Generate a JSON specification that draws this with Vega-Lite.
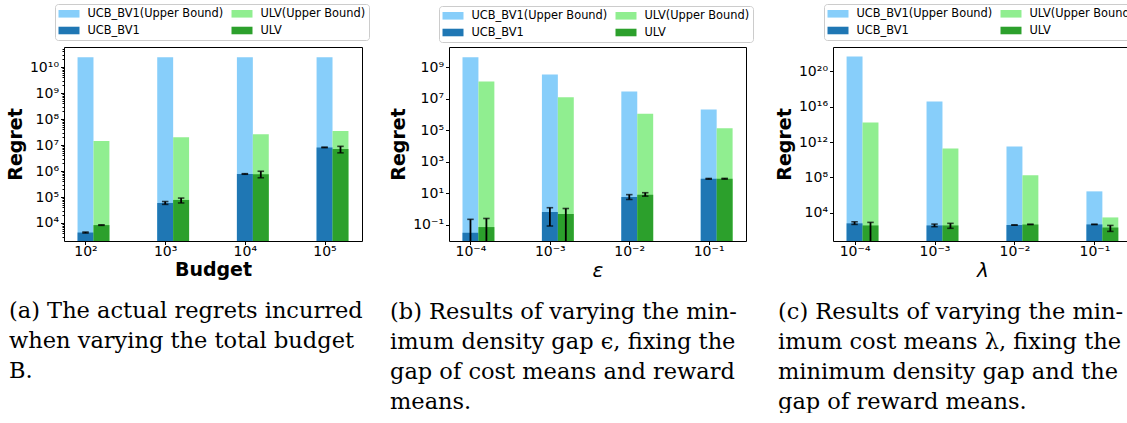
{
  "$schema": "https://vega.github.io/schema/vega-lite/v6.json",
  "padding": {"left": 6, "top": 3, "right": 0, "bottom": 0},
  "background": "white",
  "spacing": 87,
  "bounds": "flush",
  "config": {
    "font": "DejaVu Sans",
    "view": {"stroke": null},
    "axis": {"domain": true, "domainColor": "black", "domainWidth": 1, "grid": false, "tickColor": "black", "tickSize": 3.5, "tickWidth": 1, "labelColor": "black", "labelFontSize": 14, "labelFont": "DejaVu Sans", "titleColor": "black", "titleFont": "DejaVu Sans", "titleFontSize": 19, "titleFontWeight": "bold", "labelPadding": 2},
    "axisX": {"labelAngle": 0, "titlePadding": 2, "labelPadding": 0},
    "axisY": {"titlePadding": 4, "labelOverlap": false},
    "legend": {"orient": "none", "title": null, "columns": 2, "columnPadding": 8, "rowPadding": 5, "padding": 3.5, "strokeColor": "#cccccc", "fillColor": "white", "cornerRadius": 3, "symbolStrokeWidth": 0, "labelFont": "DejaVu Sans", "labelFontSize": 11.4, "labelOffset": 17, "labelColor": "black"},
    "title": {"font": "DejaVu Serif", "fontSize": 22.5, "fontWeight": "normal", "color": "black", "orient": "bottom", "anchor": "start", "frame": "group", "lineHeight": 30, "offset": 20}
  },
  "resolve": {"scale": {"color": "independent"}, "legend": {"color": "independent"}},
  "datasets": {
    "a": [
      {"param": "10²", "alg": "UCB_BV1", "ubSeries": "UCB_BV1(Upper Bound)", "series": "UCB_BV1", "ub": 2.4e10, "mean": 4300, "lo": 4100, "hi": 4500},
      {"param": "10²", "alg": "ULV", "ubSeries": "ULV(Upper Bound)", "series": "ULV", "ub": 1.43e7, "mean": 8300, "lo": 8100, "hi": 8500},
      {"param": "10³", "alg": "UCB_BV1", "ubSeries": "UCB_BV1(Upper Bound)", "series": "UCB_BV1", "ub": 2.4e10, "mean": 59000, "lo": 52000, "hi": 67000},
      {"param": "10³", "alg": "ULV", "ubSeries": "ULV(Upper Bound)", "series": "ULV", "ub": 2.0e7, "mean": 77000, "lo": 59000, "hi": 91000},
      {"param": "10⁴", "alg": "UCB_BV1", "ubSeries": "UCB_BV1(Upper Bound)", "series": "UCB_BV1", "ub": 2.4e10, "mean": 770000, "lo": 750000, "hi": 790000},
      {"param": "10⁴", "alg": "ULV", "ubSeries": "ULV(Upper Bound)", "series": "ULV", "ub": 2.6e7, "mean": 750000, "lo": 550000, "hi": 980000},
      {"param": "10⁵", "alg": "UCB_BV1", "ubSeries": "UCB_BV1(Upper Bound)", "series": "UCB_BV1", "ub": 2.4e10, "mean": 8.1e6, "lo": 7.9e6, "hi": 8.3e6},
      {"param": "10⁵", "alg": "ULV", "ubSeries": "ULV(Upper Bound)", "series": "ULV", "ub": 3.5e7, "mean": 7.1e6, "lo": 5.0e6, "hi": 8.9e6}
    ],
    "b": [
      {"param": "10⁻⁴", "alg": "UCB_BV1", "ubSeries": "UCB_BV1(Upper Bound)", "series": "UCB_BV1", "ub": 4.2e9, "mean": 0.031, "lo": 0.0001, "hi": 0.22},
      {"param": "10⁻⁴", "alg": "ULV", "ubSeries": "ULV(Upper Bound)", "series": "ULV", "ub": 1.2e8, "mean": 0.071, "lo": 0.0001, "hi": 0.25},
      {"param": "10⁻³", "alg": "UCB_BV1", "ubSeries": "UCB_BV1(Upper Bound)", "series": "UCB_BV1", "ub": 3.4e8, "mean": 0.64, "lo": 0.083, "hi": 1.2},
      {"param": "10⁻³", "alg": "ULV", "ubSeries": "ULV(Upper Bound)", "series": "ULV", "ub": 1.2e7, "mean": 0.48, "lo": 0.0001, "hi": 1.07},
      {"param": "10⁻²", "alg": "UCB_BV1", "ubSeries": "UCB_BV1(Upper Bound)", "series": "UCB_BV1", "ub": 2.8e7, "mean": 5.8, "lo": 4.0, "hi": 8.1},
      {"param": "10⁻²", "alg": "ULV", "ubSeries": "ULV(Upper Bound)", "series": "ULV", "ub": 1.1e6, "mean": 8.0, "lo": 6.5, "hi": 10.7},
      {"param": "10⁻¹", "alg": "UCB_BV1", "ubSeries": "UCB_BV1(Upper Bound)", "series": "UCB_BV1", "ub": 2.0e6, "mean": 81, "lo": 77, "hi": 86},
      {"param": "10⁻¹", "alg": "ULV", "ubSeries": "ULV(Upper Bound)", "series": "ULV", "ub": 1.3e5, "mean": 82, "lo": 78, "hi": 87}
    ],
    "c": [
      {"param": "10⁻⁴", "alg": "UCB_BV1", "ubSeries": "UCB_BV1(Upper Bound)", "series": "UCB_BV1", "ub": 5e21, "mean": 620, "lo": 470, "hi": 930},
      {"param": "10⁻⁴", "alg": "ULV", "ubSeries": "ULV(Upper Bound)", "series": "ULV", "ub": 1.7e14, "mean": 360, "lo": 1, "hi": 800},
      {"param": "10⁻³", "alg": "UCB_BV1", "ubSeries": "UCB_BV1(Upper Bound)", "series": "UCB_BV1", "ub": 4e16, "mean": 360, "lo": 260, "hi": 510},
      {"param": "10⁻³", "alg": "ULV", "ubSeries": "ULV(Upper Bound)", "series": "ULV", "ub": 1.9e11, "mean": 360, "lo": 170, "hi": 620},
      {"param": "10⁻²", "alg": "UCB_BV1", "ubSeries": "UCB_BV1(Upper Bound)", "series": "UCB_BV1", "ub": 3.2e11, "mean": 400, "lo": 390, "hi": 410},
      {"param": "10⁻²", "alg": "ULV", "ubSeries": "ULV(Upper Bound)", "series": "ULV", "ub": 1.7e8, "mean": 470, "lo": 455, "hi": 485},
      {"param": "10⁻¹", "alg": "UCB_BV1", "ubSeries": "UCB_BV1(Upper Bound)", "series": "UCB_BV1", "ub": 2.6e6, "mean": 470, "lo": 460, "hi": 480},
      {"param": "10⁻¹", "alg": "ULV", "ubSeries": "ULV(Upper Bound)", "series": "ULV", "ub": 2.9e3, "mean": 210, "lo": 76, "hi": 360}
    ]
  },
  "hconcat": [
    {
      "width": 298, "height": 194,
      "data": {"name": "a"},
      "title": {"text": ["(a) The actual regrets incurred", "when varying the total budget", "B."], "dx": -55},
      "resolve": {"axis": {"x": "independent", "y": "independent"}},
      "encoding": {
        "xOffset": {"field": "alg", "type": "nominal", "scale": {"domain": ["UCB_BV1", "ULV"], "paddingInner": 0, "paddingOuter": 0}}
      },
      "layer": [
        {"mark": {"type": "bar"}, "encoding": {
          "x": {"field": "param", "type": "nominal", "scale": {"domain": ["10²", "10³", "10⁴", "10⁵"], "paddingInner": 0.6, "paddingOuter": 0.17}, "axis": {"title": "Budget", "tickOffset": -8}},
          "y": {"field": "ub", "type": "quantitative", "scale": {"type": "log", "nice": false, "domain": [2030, 5.9e10]}, "axis": {"title": "Regret", "values": [3e3,4e3,5e3,6e3,7e3,8e3,9e3,1e4,2e4,3e4,4e4,5e4,6e4,7e4,8e4,9e4,1e5,2e5,3e5,4e5,5e5,6e5,7e5,8e5,9e5,1e6,2e6,3e6,4e6,5e6,6e6,7e6,8e6,9e6,1e7,2e7,3e7,4e7,5e7,6e7,7e7,8e7,9e7,1e8,2e8,3e8,4e8,5e8,6e8,7e8,8e8,9e8,1e9,2e9,3e9,4e9,5e9,6e9,7e9,8e9,9e9,1e10,2e10,3e10,4e10,5e10],
            "labelExpr": "abs(log(datum.value)/LN10 - round(log(datum.value)/LN10)) < 0.000001 ? '10' + replace(replace(replace(replace(replace(replace(replace(replace(replace(replace(replace(replace(format(round(log(datum.value)/LN10),'d'),'−','⁻'),'-','⁻'),'0','⁰'),'1','¹'),'2','²'),'3','³'),'4','⁴'),'5','⁵'),'6','⁶'),'7','⁷'),'8','⁸'),'9','⁹') : ''",
            "tickSize": {"condition": {"test": "abs(log(datum.value)/LN10 - round(log(datum.value)/LN10)) < 0.000001", "value": 3.5}, "value": 2}}},
          "y2": {"datum": 2030},
          "color": {"field": "ubSeries", "type": "nominal", "scale": {"domain": ["UCB_BV1(Upper Bound)", "UCB_BV1", "ULV(Upper Bound)", "ULV"], "range": ["#87cefa", "#1f77b4", "#90ee90", "#2ca02c"]}, "legend": {"legendX": -9, "legendY": -43, "symbolType": "M-1,-0.63H2.5V0.63H-1Z", "symbolSize": 144}}
        }},
        {"mark": {"type": "bar"}, "encoding": {
          "x": {"field": "param", "type": "nominal", "axis": {"orient": "top", "title": null, "labels": false, "ticks": false}},
          "y": {"field": "mean", "type": "quantitative", "axis": {"orient": "right", "title": null, "labels": false, "ticks": false}},
          "y2": {"datum": 2030},
          "color": {"field": "series", "type": "nominal", "legend": {"legendX": -9, "legendY": -43, "symbolType": "M-1,-0.63H2.5V0.63H-1Z", "symbolSize": 144}}
        }},
        {"mark": {"type": "rule", "clip": true, "color": "black", "strokeWidth": 1.8}, "encoding": {"x": {"field": "param", "type": "nominal", "axis": null}, "y": {"field": "lo", "type": "quantitative", "axis": null}, "y2": {"field": "hi"}}},
        {"mark": {"type": "tick", "clip": true, "color": "black", "thickness": 1.6, "size": 6.5}, "encoding": {"x": {"field": "param", "type": "nominal", "axis": null}, "y": {"field": "lo", "type": "quantitative", "axis": null}}},
        {"mark": {"type": "tick", "clip": true, "color": "black", "thickness": 1.6, "size": 6.5}, "encoding": {"x": {"field": "param", "type": "nominal", "axis": null}, "y": {"field": "hi", "type": "quantitative", "axis": null}}}
      ]
    },
    {
      "width": 297, "height": 194,
      "data": {"name": "b"},
      "title": {"text": ["(b) Results of varying the min-", "imum density gap ϵ, fixing the", "gap of cost means and reward", "means."], "dx": -59},
      "resolve": {"axis": {"x": "independent", "y": "independent"}},
      "encoding": {
        "xOffset": {"field": "alg", "type": "nominal", "scale": {"domain": ["UCB_BV1", "ULV"], "paddingInner": 0, "paddingOuter": 0}}
      },
      "layer": [
        {"mark": {"type": "bar"}, "encoding": {
          "x": {"field": "param", "type": "nominal", "scale": {"domain": ["10⁻⁴", "10⁻³", "10⁻²", "10⁻¹"], "paddingInner": 0.6, "paddingOuter": 0.17}, "axis": {"title": "ε", "titleFontWeight": "normal", "titleFontStyle": "italic", "titleFontSize": 20, "tickOffset": -8}},
          "y": {"field": "ub", "type": "quantitative", "scale": {"type": "log", "nice": false, "domain": [0.0093, 1.86e10]}, "axis": {"title": "Regret", "values": [0.1, 10, 1000, 1e5, 1e7, 1e9],
            "labelExpr": "'10' + replace(replace(replace(replace(replace(replace(replace(replace(replace(replace(replace(replace(format(round(log(datum.value)/LN10),'d'),'−','⁻'),'-','⁻'),'0','⁰'),'1','¹'),'2','²'),'3','³'),'4','⁴'),'5','⁵'),'6','⁶'),'7','⁷'),'8','⁸'),'9','⁹')"}},
          "y2": {"datum": 0.0093},
          "color": {"field": "ubSeries", "type": "nominal", "scale": {"domain": ["UCB_BV1(Upper Bound)", "UCB_BV1", "ULV(Upper Bound)", "ULV"], "range": ["#87cefa", "#1f77b4", "#90ee90", "#2ca02c"]}, "legend": {"legendX": -10, "legendY": -41, "symbolType": "M-1,-0.63H2.5V0.63H-1Z", "symbolSize": 144}}
        }},
        {"mark": {"type": "bar"}, "encoding": {
          "x": {"field": "param", "type": "nominal", "axis": {"orient": "top", "title": null, "labels": false, "ticks": false}},
          "y": {"field": "mean", "type": "quantitative", "axis": {"orient": "right", "title": null, "labels": false, "ticks": false}},
          "y2": {"datum": 0.0093},
          "color": {"field": "series", "type": "nominal", "legend": {"legendX": -10, "legendY": -41, "symbolType": "M-1,-0.63H2.5V0.63H-1Z", "symbolSize": 144}}
        }},
        {"mark": {"type": "rule", "clip": true, "color": "black", "strokeWidth": 1.8}, "encoding": {"x": {"field": "param", "type": "nominal", "axis": null}, "y": {"field": "lo", "type": "quantitative", "axis": null}, "y2": {"field": "hi"}}},
        {"mark": {"type": "tick", "clip": true, "color": "black", "thickness": 1.6, "size": 6.5}, "encoding": {"x": {"field": "param", "type": "nominal", "axis": null}, "y": {"field": "lo", "type": "quantitative", "axis": null}}},
        {"mark": {"type": "tick", "clip": true, "color": "black", "thickness": 1.6, "size": 6.5}, "encoding": {"x": {"field": "param", "type": "nominal", "axis": null}, "y": {"field": "hi", "type": "quantitative", "axis": null}}}
      ]
    },
    {
      "width": 299, "height": 194,
      "data": {"name": "c"},
      "title": {"text": ["(c) Results of varying the min-", "imum cost means λ, fixing the", "minimum density gap and the", "gap of reward means."], "dx": -55},
      "resolve": {"axis": {"x": "independent", "y": "independent"}},
      "encoding": {
        "xOffset": {"field": "alg", "type": "nominal", "scale": {"domain": ["UCB_BV1", "ULV"], "paddingInner": 0, "paddingOuter": 0}}
      },
      "layer": [
        {"mark": {"type": "bar"}, "encoding": {
          "x": {"field": "param", "type": "nominal", "scale": {"domain": ["10⁻⁴", "10⁻³", "10⁻²", "10⁻¹"], "paddingInner": 0.6, "paddingOuter": 0.17}, "axis": {"title": "λ", "titleFontWeight": "normal", "titleFontStyle": "italic", "titleFontSize": 20, "tickOffset": -8}},
          "y": {"field": "ub", "type": "quantitative", "scale": {"type": "log", "nice": false, "domain": [6.2, 5.9e22]}, "axis": {"title": "Regret", "values": [1e4, 1e8, 1e12, 1e16, 1e20],
            "labelExpr": "'10' + replace(replace(replace(replace(replace(replace(replace(replace(replace(replace(replace(replace(format(round(log(datum.value)/LN10),'d'),'−','⁻'),'-','⁻'),'0','⁰'),'1','¹'),'2','²'),'3','³'),'4','⁴'),'5','⁵'),'6','⁶'),'7','⁷'),'8','⁸'),'9','⁹')"}},
          "y2": {"datum": 6.2},
          "color": {"field": "ubSeries", "type": "nominal", "scale": {"domain": ["UCB_BV1(Upper Bound)", "UCB_BV1", "ULV(Upper Bound)", "ULV"], "range": ["#87cefa", "#1f77b4", "#90ee90", "#2ca02c"]}, "legend": {"legendX": -9, "legendY": -43, "symbolType": "M-1,-0.63H2.5V0.63H-1Z", "symbolSize": 144}}
        }},
        {"mark": {"type": "bar"}, "encoding": {
          "x": {"field": "param", "type": "nominal", "axis": {"orient": "top", "title": null, "labels": false, "ticks": false}},
          "y": {"field": "mean", "type": "quantitative", "axis": {"orient": "right", "title": null, "labels": false, "ticks": false}},
          "y2": {"datum": 6.2},
          "color": {"field": "series", "type": "nominal", "legend": {"legendX": -9, "legendY": -43, "symbolType": "M-1,-0.63H2.5V0.63H-1Z", "symbolSize": 144}}
        }},
        {"mark": {"type": "rule", "clip": true, "color": "black", "strokeWidth": 1.8}, "encoding": {"x": {"field": "param", "type": "nominal", "axis": null}, "y": {"field": "lo", "type": "quantitative", "axis": null}, "y2": {"field": "hi"}}},
        {"mark": {"type": "tick", "clip": true, "color": "black", "thickness": 1.6, "size": 6.5}, "encoding": {"x": {"field": "param", "type": "nominal", "axis": null}, "y": {"field": "lo", "type": "quantitative", "axis": null}}},
        {"mark": {"type": "tick", "clip": true, "color": "black", "thickness": 1.6, "size": 6.5}, "encoding": {"x": {"field": "param", "type": "nominal", "axis": null}, "y": {"field": "hi", "type": "quantitative", "axis": null}}}
      ]
    }
  ]
}
